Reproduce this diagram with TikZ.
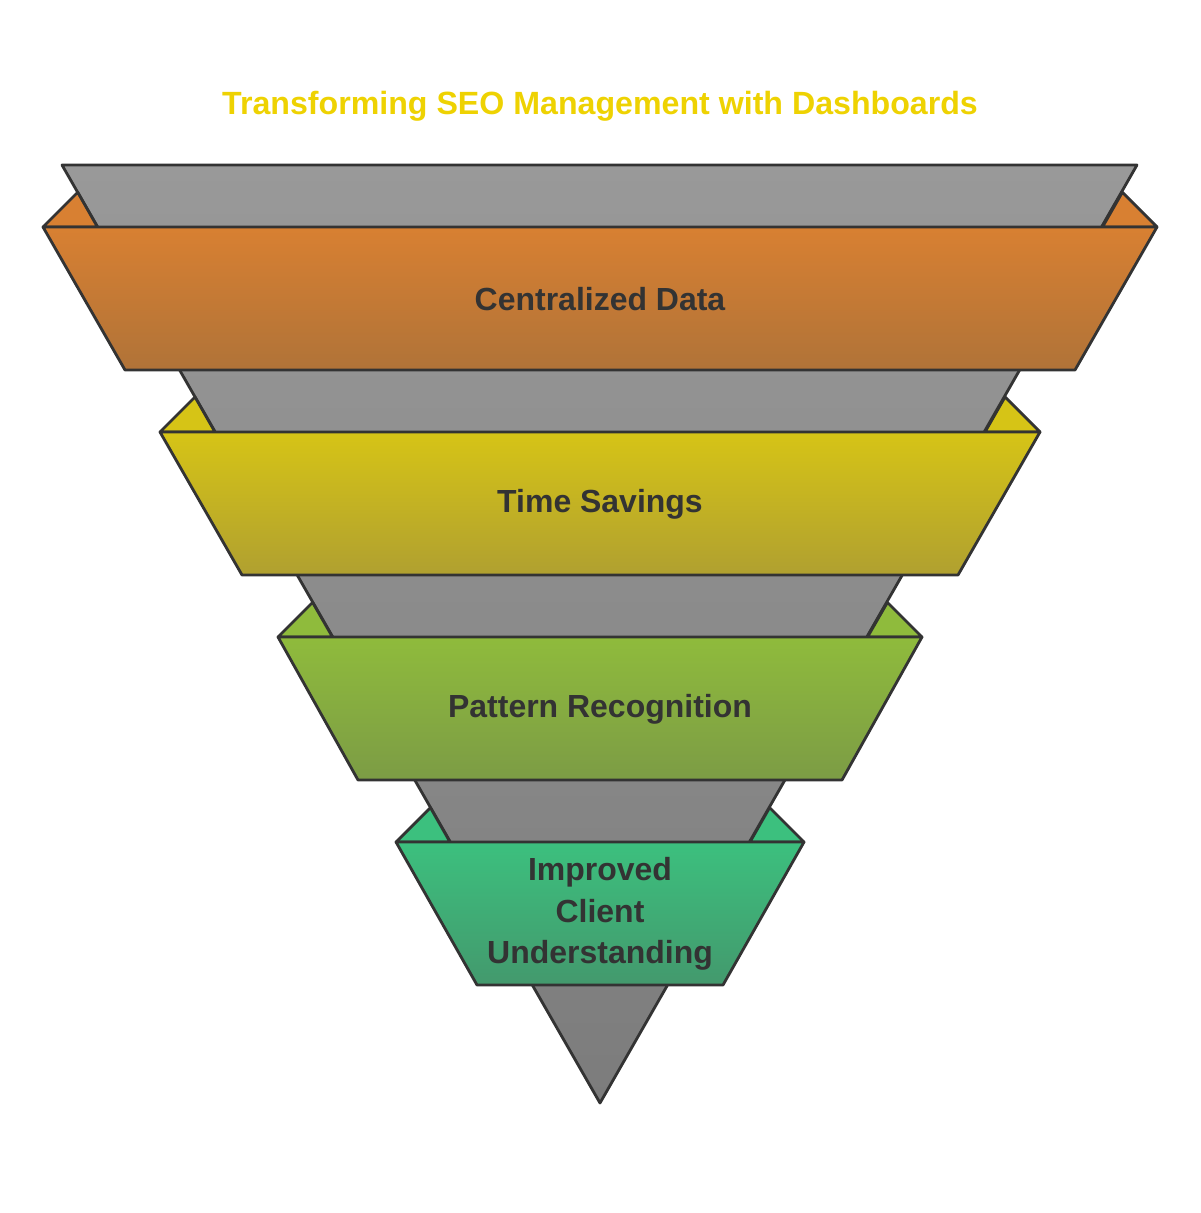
\documentclass[tikz,border=0pt]{standalone}
\usepackage{fontspec}
\setmainfont{Liberation Sans}
\definecolor{edge}{HTML}{333333}
\definecolor{titlecol}{HTML}{EED202}
\definecolor{graytop}{HTML}{999999}
\definecolor{graybot}{HTML}{7C7C7C}
\definecolor{orangetop}{HTML}{D88032}
\definecolor{orangebot}{HTML}{B07338}
\definecolor{yellowtop}{HTML}{D6C416}
\definecolor{yellowbot}{HTML}{B0A030}
\definecolor{olivetop}{HTML}{8FBB3C}
\definecolor{olivebot}{HTML}{7C9C45}
\definecolor{tealtop}{HTML}{3CC07E}
\definecolor{tealbot}{HTML}{43996D}

\begin{document}
\begin{tikzpicture}
  [x=0.02cm,y=-0.02cm,
   band/.style={draw=edge,line width=1.6pt,line join=round},
   label/.style={font=\bfseries\fontsize{18.2}{23.5}\selectfont,text=edge,align=center}]

  \useasboundingbox (0,0) rectangle (1200,1213);

  \node[font=\bfseries\fontsize{18.3}{22}\selectfont,text=titlecol] (title) at (600,106) {Transforming SEO Management with Dashboards};

  % funnel body
  \coordinate (f1) at (62,165);
  \coordinate (f2) at (1137,165);
  \coordinate (f3) at (600,1103);
  \path[band,top color=graytop,bottom color=graybot] (f1) -- (f2) -- (f3) -- cycle;

  % Centralized Data
  \path[band,fill=orangetop] (43,227) -- (77.7,192.3) -- (97.5,227) -- cycle;
  \path[band,fill=orangetop] (1157,227) -- (1122.3,192.3) -- (1102.5,227) -- cycle;
  \path[band,top color=orangetop,bottom color=orangebot] (43,227) -- (1157,227) -- (1075,370) -- (125,370) -- cycle;
  \node[label] (l1) at (600,299) {Centralized Data};

  % Time Savings
  \path[band,fill=yellowtop] (160,432) -- (195,397) -- (215,432) -- cycle;
  \path[band,fill=yellowtop] (1040,432) -- (1005,397) -- (985,432) -- cycle;
  \path[band,top color=yellowtop,bottom color=yellowbot] (160,432) -- (1040,432) -- (958,575) -- (242,575) -- cycle;
  \node[label] (l2) at (600,504) {Time Savings};

  % Pattern Recognition
  \path[band,fill=olivetop] (278,637) -- (312.6,602.4) -- (332.5,637) -- cycle;
  \path[band,fill=olivetop] (922,637) -- (887.4,602.4) -- (867.5,637) -- cycle;
  \path[band,top color=olivetop,bottom color=olivebot] (278,637) -- (922,637) -- (842,780) -- (358,780) -- cycle;
  \node[label] (l3) at (600,709) {Pattern Recognition};

  % Improved Client Understanding
  \path[band,fill=tealtop] (396,842) -- (430.4,807.6) -- (450,842) -- cycle;
  \path[band,fill=tealtop] (804,842) -- (769.6,807.6) -- (750,842) -- cycle;
  \path[band,top color=tealtop,bottom color=tealbot] (396,842) -- (804,842) -- (723,985) -- (477,985) -- cycle;
  \node[label] (l4) at (600,914) {Improved\\Client\\Understanding};

\end{tikzpicture}
\end{document}
